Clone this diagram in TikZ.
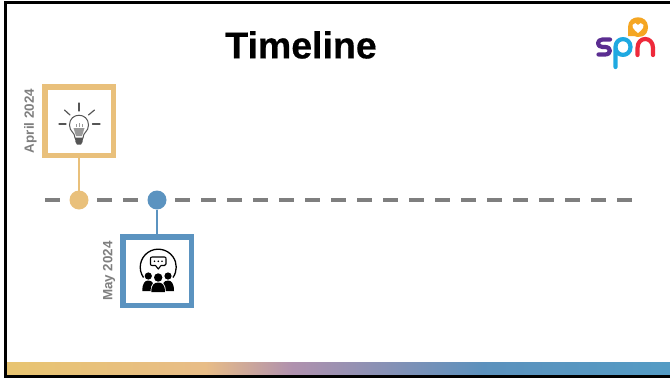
\documentclass[tikz,border=0pt]{standalone}
\usepackage{fontspec}
\setmainfont{Liberation Sans}
\definecolor{tan1}{HTML}{E9C07B}
\definecolor{blue1}{HTML}{5B93C0}
\definecolor{gry}{HTML}{7F7F7F}
\definecolor{icongry}{HTML}{555555}
\definecolor{spnpurple}{HTML}{5B2D91}
\definecolor{spnblue}{HTML}{1FA9E1}
\definecolor{spnred}{HTML}{EE2A3B}
\definecolor{spnorange}{HTML}{F5A623}
\pgfdeclarehorizontalshading{barshadeb}{100bp}{
 rgb(0bp)=(0.91,0.77,0.44);
 rgb(25bp)=(0.91,0.77,0.44);
 rgb(40bp)=(0.91,0.74,0.53);
 rgb(46.5bp)=(0.69,0.57,0.68);
 rgb(61bp)=(0.36,0.57,0.74);
 rgb(75bp)=(0.33,0.61,0.77);
 rgb(100bp)=(0.33,0.61,0.77)}
\tikzset{
 x=1pt,y=-1pt,
 framebox/.style={draw,line width=5.5pt,fill=white,minimum size=68.5pt,inner sep=0pt,outer sep=0pt},
 dot/.style={circle,minimum size=19pt,inner sep=0pt,outer sep=0pt},
 datelabel/.style={rotate=90,font=\fontsize{13.4}{14}\selectfont\bfseries,text=gry,inner sep=0pt},
 timeaxis/.style={gry,line width=4pt,dash pattern=on 15pt off 11pt},
 ray/.style={icongry,line width=1.2pt,line cap=round},
 logostroke/.style={line width=4.2pt,line cap=round,line join=round},
}
\begin{document}
\begin{tikzpicture}
\useasboundingbox (0,0) rectangle (670,378);
\fill[white] (0,0) rectangle (670,378);
% gradient bar
\shade[shading=barshadeb] (6,362.3) rectangle (670,375);
% frame
\fill[black] (4,1.3) rectangle (670,3.5);
\fill[black] (4,1.3) rectangle (6.6,378);
\fill[black] (4,375) rectangle (670,378);
% title
\node (title) at (301,45) {\fontsize{37.5}{40}\selectfont\bfseries\addfontfeature{FakeBold=0.4}Timeline};
% timeline
\coordinate (axisL) at (45,200);
\coordinate (axisR) at (633,200);
\draw[timeaxis] (axisL) -- (axisR);
% April
\node[framebox,draw=tan1] (boxA) at (79,121) {};
\node[dot,fill=tan1] (dotA) at (79,200) {};
\draw[tan1,line width=1.25pt] (boxA.south) -- (dotA.north);
\node[datelabel] (labA) at (30.5,121) {April 2024};
% May
\node[framebox,draw=blue1] (boxB) at (157,271) {};
\node[dot,fill=blue1] (dotB) at (157,200) {};
\draw[blue1,line width=1.25pt] (dotB.south) -- (boxB.north);
\node[datelabel] (labB) at (109,271) {May 2024};
% bulb icon
\draw[ray] (79,103) -- (79,111);
\draw[ray] (59,124) -- (66,124);
\draw[ray] (92.5,124) -- (100,124);
\draw[ray] (64.5,110) -- (70,115);
\draw[ray] (94.5,110) -- (88.5,115);
\draw[icongry,line width=1pt] (75,138) .. controls (75,132) and (69.5,132) .. (69.5,125) .. controls (69.5,112) and (88.5,112) .. (88.5,125) .. controls (88.5,132) and (83,132) .. (83,138) -- cycle;
\fill[icongry!60] (73.5,128) -- (84.5,128) -- (82,136) -- (76,136) -- cycle;
\draw[icongry!60,line width=.6pt] (76,127) -- (76,124) (79,127) -- (79,123) (82,127) -- (82,124);
\fill[icongry] (75,138) -- (83,138) -- (82.5,142) -- (81,144.5) -- (77,144.5) -- (75.5,142) -- cycle;
% people icon
\draw[black,line width=1.3pt] (143.5,277.5) arc[start angle=215,end angle=-35,radius=18pt];
\draw[black,line width=1.1pt,line join=round,fill=white] (152,257) -- (164.5,257) .. controls (166,257) and (166,258) .. (166,259) -- (166,264) .. controls (166,265) and (165.5,265.5) .. (164.5,265.5) -- (161,265.5) -- (158.3,269) -- (155.5,265.5) -- (152,265.5) .. controls (150.5,265.5) and (150.5,264.5) .. (150.5,264) -- (150.5,259) .. controls (150.5,258) and (150.5,257) .. (152,257) -- cycle;
\fill[black] (154.5,261.3) circle (.9pt) (158.3,261.3) circle (.9pt) (162,261.3) circle (.9pt);
\fill[black] (148.3,276) circle (3.6pt) (168,276) circle (3.6pt);
\fill[black] (142.3,291) .. controls (142.3,283) and (145,280.5) .. (148.3,280.5) .. controls (150.5,280.5) and (152,281.5) .. (153,283) .. controls (151,285) and (150.5,288) .. (150.5,291) -- cycle;
\fill[black] (174,291) .. controls (174,283) and (171.3,280.5) .. (168,280.5) .. controls (165.8,280.5) and (164.3,281.5) .. (163.3,283) .. controls (165.3,285) and (165.8,288) .. (165.8,291) -- cycle;
\fill[black] (158.2,277.5) circle (4.2pt);
\fill[black] (151.3,292) .. controls (151.3,285) and (154,282.5) .. (158.2,282.5) .. controls (162.4,282.5) and (165,285) .. (165,292) -- cycle;
% logo
\draw[logostroke,spnpurple] (610,39.5) -- (602.5,39.5) .. controls (596.5,39.5) and (596.5,47) .. (602.5,47) -- (605,47) .. controls (611.5,47) and (611.5,54.5) .. (605,54.5) -- (598.5,54.5);
\draw[logostroke,spnblue] (615.5,67) -- (615.5,47) .. controls (615.5,36.5) and (630.5,36.5) .. (630.5,47) .. controls (630.5,57.5) and (615.5,57.5) .. (615.5,47);
\draw[logostroke,spnred] (637.5,55) -- (637.5,48) .. controls (637.5,36) and (653,36) .. (653,48) -- (653,55);
\fill[spnorange] (628,36) -- (628,27) .. controls (628,14) and (648,14) .. (648,27) .. controls (648,38) and (637,38) .. (634,36) -- cycle;
\fill[white] (638,33) .. controls (632.5,28.5) and (632,26.5) .. (632.5,25) .. controls (633.5,22.5) and (637,22.5) .. (638,25) .. controls (639,22.5) and (642.5,22.5) .. (643.5,25) .. controls (644,26.5) and (643.5,28.5) .. (638,33) -- cycle;
\end{tikzpicture}
\end{document}
